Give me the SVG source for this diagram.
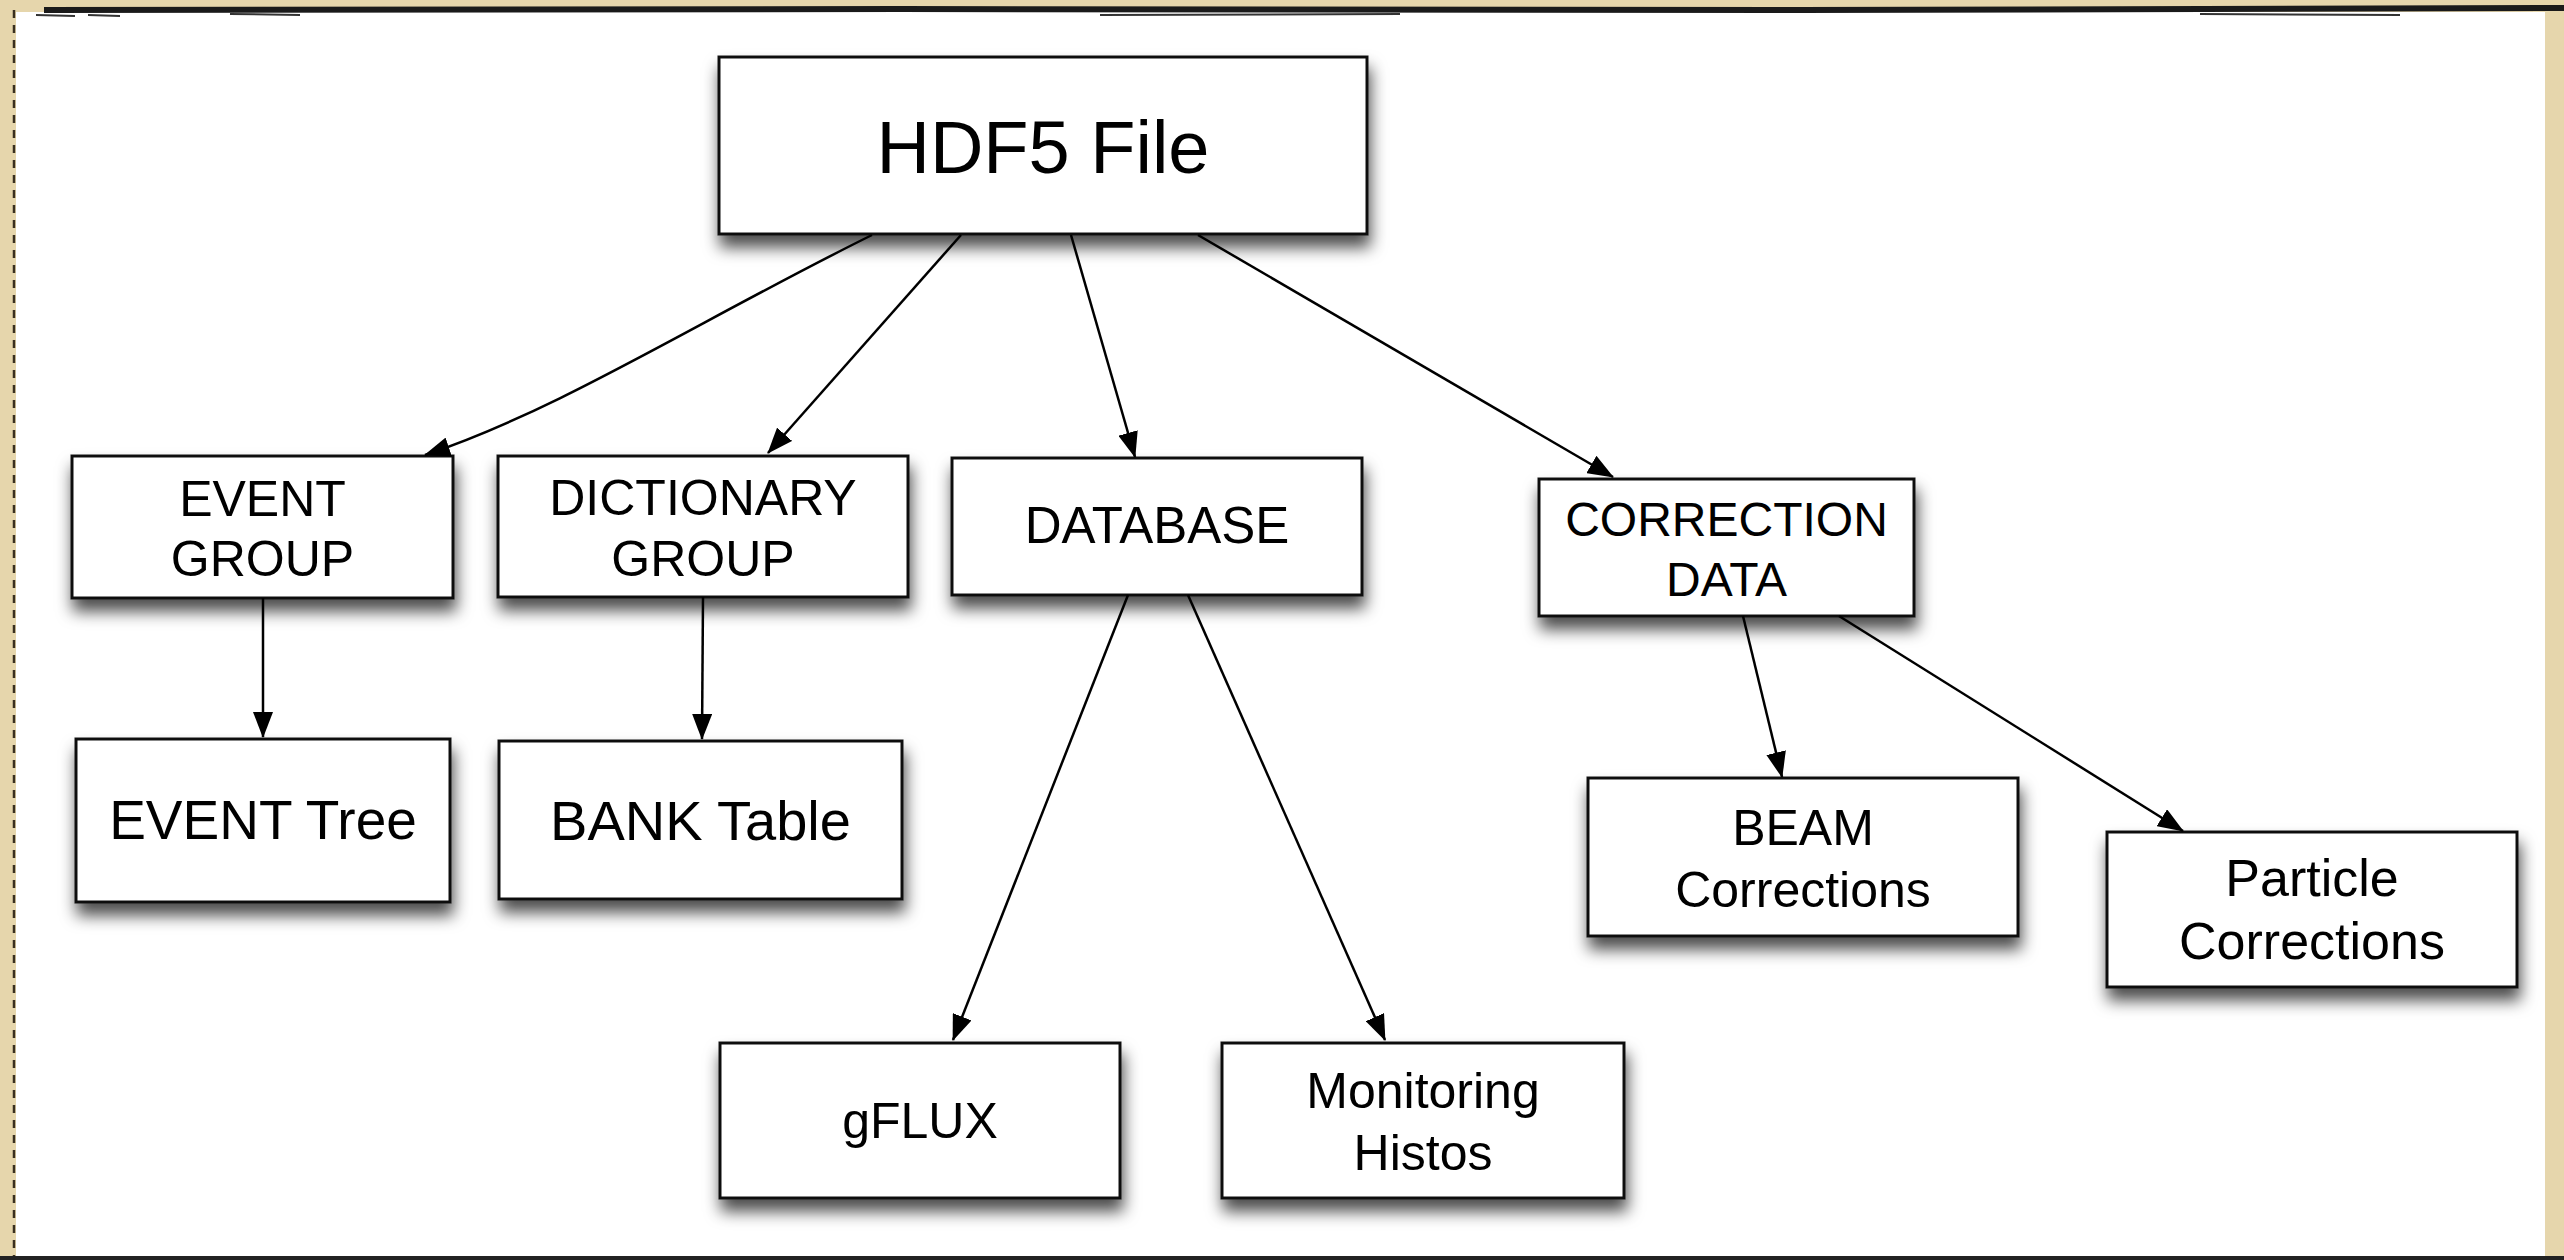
<svg xmlns="http://www.w3.org/2000/svg" width="2564" height="1260" viewBox="0 0 2564 1260">
  <defs>
    <filter id="shadow" x="-10%" y="-20%" width="125%" height="160%">
      <feDropShadow dx="2" dy="12" stdDeviation="8" flood-color="#000" flood-opacity="0.7"/>
    </filter>
    <marker id="arrow" markerUnits="userSpaceOnUse" viewBox="0 0 26 20" markerWidth="26" markerHeight="20" refX="25" refY="10" orient="auto">
      <path d="M0,0 L26,10 L0,20 z" fill="#000"/>
    </marker>
    <style>
      .box { fill: #fff; stroke: #111; stroke-width: 3; filter: url(#shadow); }
      .lbl { font-family: "Liberation Sans", Arial, Helvetica, sans-serif; fill: #000; text-anchor: middle; }
      .edge { fill: none; stroke: #000; stroke-width: 2.5; marker-end: url(#arrow); }
    </style>
  </defs>

  <!-- background -->
  <rect x="0" y="0" width="2564" height="1260" fill="#E6D6AC"/>
  <rect x="16" y="12" width="2529" height="1248" fill="#FFFFFF"/>
  <path d="M44,10 L900,9 L1800,10 L2564,8" stroke="#1a1a1a" stroke-width="6" fill="none"/>
  <path d="M36,15 L75,16 M88,15 L120,16 M230,14 L300,15 M1100,15 L1400,14 M2200,14 L2400,15" stroke="#333" stroke-width="2" fill="none"/>
  <line x1="14" y1="10" x2="14" y2="1260" stroke="#3a3020" stroke-width="2.5" stroke-dasharray="8 7"/>
  <path d="M0,1258 L2564,1258" stroke="#222" stroke-width="4" fill="none"/>

  <!-- nodes -->
  <g id="hdf5-file">
    <rect class="box" x="719" y="57" width="648" height="177"/>
    <text class="lbl" x="1043" y="173" font-size="74">HDF5 File</text>
  </g>
  <g id="event-group">
    <rect class="box" x="72" y="456" width="381" height="142"/>
    <text class="lbl" x="262.5" y="516" font-size="50">EVENT</text>
    <text class="lbl" x="262.5" y="576" font-size="50">GROUP</text>
  </g>
  <g id="dictionary-group">
    <rect class="box" x="498" y="456" width="410" height="141"/>
    <text class="lbl" x="703" y="515" font-size="50">DICTIONARY</text>
    <text class="lbl" x="703" y="576" font-size="50">GROUP</text>
  </g>
  <g id="database">
    <rect class="box" x="952" y="458" width="410" height="137"/>
    <text class="lbl" x="1157" y="543" font-size="51">DATABASE</text>
  </g>
  <g id="correction-data">
    <rect class="box" x="1539" y="479" width="375" height="137"/>
    <text class="lbl" x="1726.5" y="536" font-size="48">CORRECTION</text>
    <text class="lbl" x="1726.5" y="596" font-size="48">DATA</text>
  </g>
  <g id="event-tree">
    <rect class="box" x="76" y="739" width="374" height="163"/>
    <text class="lbl" x="263" y="839" font-size="55">EVENT Tree</text>
  </g>
  <g id="bank-table">
    <rect class="box" x="499" y="741" width="403" height="158"/>
    <text class="lbl" x="700.5" y="840" font-size="56">BANK Table</text>
  </g>
  <g id="beam-corrections">
    <rect class="box" x="1588" y="778" width="430" height="158"/>
    <text class="lbl" x="1803" y="845" font-size="50">BEAM</text>
    <text class="lbl" x="1803" y="907" font-size="50">Corrections</text>
  </g>
  <g id="particle-corrections">
    <rect class="box" x="2107" y="832" width="410" height="155"/>
    <text class="lbl" x="2312" y="896" font-size="52">Particle</text>
    <text class="lbl" x="2312" y="959" font-size="52">Corrections</text>
  </g>
  <g id="gflux">
    <rect class="box" x="720" y="1043" width="400" height="155"/>
    <text class="lbl" x="920" y="1138" font-size="50">gFLUX</text>
  </g>
  <g id="monitoring-histos">
    <rect class="box" x="1222" y="1043" width="402" height="155"/>
    <text class="lbl" x="1423" y="1108" font-size="50">Monitoring</text>
    <text class="lbl" x="1423" y="1170" font-size="50">Histos</text>
  </g>

  <!-- connectors -->
  <g id="connectors">
    <path class="edge" d="M872,235 C700,320 560,410 425,455"/>
    <path class="edge" d="M961,235 L768,453"/>
    <path class="edge" d="M1071,235 L1135,457"/>
    <path class="edge" d="M1198,235 L1613,477"/>
    <path class="edge" d="M263,598 L263,737"/>
    <path class="edge" d="M703,597 L702,739"/>
    <path class="edge" d="M1128,595 L953,1040"/>
    <path class="edge" d="M1188,595 L1385,1040"/>
    <path class="edge" d="M1743,616 L1782,777"/>
    <path class="edge" d="M1839,616 L2183,831"/>
  </g>
</svg>
